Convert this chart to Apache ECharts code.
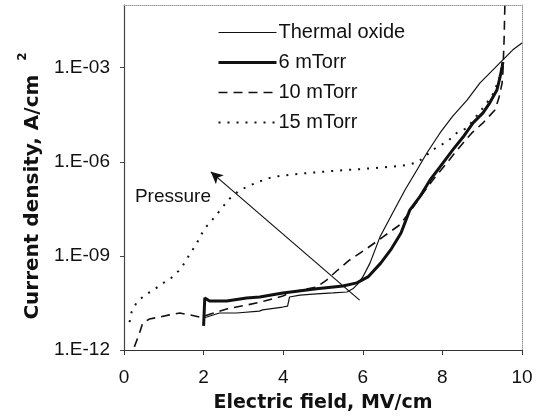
<!DOCTYPE html>
<html>
<head>
<meta charset="utf-8">
<script src="https://cdn.jsdelivr.net/npm/echarts@6/dist/echarts.min.js"></script>
<style>
  html, body { margin: 0; padding: 0; background: #fff; }
  #chart { width: 537px; height: 420px; }
</style>
</head>
<body>
<div id="chart"></div>
<script>
// field in MV/cm, current density stored as log10(A/cm2)
var thermalE   = [2.00, 2.40, 2.83, 3.40, 3.48, 3.99, 4.11, 4.16, 4.42, 4.84, 5.25, 5.60, 5.75, 5.87, 6.00, 6.18, 6.43, 6.75, 7.06, 7.36, 7.61, 7.94, 8.26, 8.62, 8.94, 9.27, 9.52, 9.77, 10.0];
var thermalLog = [-10.98, -10.82, -10.82, -10.76, -10.72, -10.63, -10.60, -10.31, -10.25, -10.21, -10.18, -10.15, -10.05, -9.90, -9.67, -9.23, -8.40, -7.63, -6.90, -6.26, -5.72, -5.08, -4.54, -4.03, -3.49, -3.07, -2.75, -2.43, -2.21];

var m6E   = [2.00, 2.03, 2.15, 2.58, 3.08, 3.41, 3.99, 4.84, 5.50, 5.85, 6.13, 6.45, 6.70, 6.96, 7.18, 7.43, 7.69, 7.94, 8.26, 8.52, 8.77, 9.02, 9.19, 9.37, 9.45, 9.50, 9.52];
var m6Log = [-11.23, -10.34, -10.44, -10.44, -10.34, -10.31, -10.18, -10.05, -9.96, -9.86, -9.67, -9.23, -8.81, -8.27, -7.54, -7.12, -6.58, -6.16, -5.62, -5.21, -4.76, -4.44, -4.12, -3.71, -3.29, -2.98, -2.82];

var m10E   = [0.26, 0.39, 0.47, 0.64, 0.89, 1.14, 1.40, 1.65, 1.90, 2.00, 2.58, 3.11, 3.53, 3.99, 4.24, 4.84, 5.09, 5.37, 5.67, 6.05, 6.50, 6.93, 7.18, 7.48, 7.76, 8.11, 8.31, 8.52, 8.74, 9.02, 9.32, 9.42, 9.50, 9.52, 9.55, 9.57];
var m10Log = [-11.90, -11.46, -11.14, -11.01, -10.95, -10.88, -10.82, -10.88, -10.95, -10.92, -10.69, -10.56, -10.44, -10.28, -10.15, -9.99, -9.77, -9.45, -9.13, -8.81, -8.40, -8.01, -7.60, -7.06, -6.58, -6.04, -5.72, -5.40, -5.08, -4.76, -4.35, -3.96, -3.49, -3.14, -2.11, -1.00];

var m15E   = [0.14, 0.19, 0.31, 0.52, 0.74, 0.94, 1.19, 1.37, 1.52, 1.67, 1.82, 1.95, 2.08, 2.28, 2.48, 2.65, 2.88, 3.13, 3.38, 3.64, 3.91, 4.59, 5.25, 5.97, 6.68, 7.13, 7.38, 7.61, 7.86, 8.11, 8.36, 8.62, 8.94, 9.25, 9.42, 9.50];
var m15Log = [-11.11, -10.79, -10.50, -10.25, -10.09, -9.90, -9.70, -9.48, -9.23, -8.91, -8.62, -8.30, -8.05, -7.76, -7.44, -7.18, -6.93, -6.77, -6.64, -6.52, -6.45, -6.36, -6.29, -6.23, -6.16, -6.10, -6.01, -5.78, -5.53, -5.37, -5.08, -4.92, -4.41, -3.90, -3.39, -2.91];

var seriesNames = ['Thermal oxide', '6 mTorr', '10 mTorr', '15 mTorr'];
var yTickValues = [-12, -9, -6, -3];
var yTickLabels = ['1.E-12', '1.E-09', '1.E-06', '1.E-03'];

// arrow "Pressure": tail -> head, and label position
var arrowTail = [5.92, -10.41];
var arrowHead = [2.18, -6.32];
var pressureAt = [1.23, -7.12];

function pairs(xs, ys) {
    return xs.map(function (x, i) { return [x, ys[i]]; });
}

var chart = echarts.init(document.getElementById('chart'));
var ink = '#111';
var sans = '"Liberation Sans", Arial, sans-serif';
var bold = '"DejaVu Sans", sans-serif';
var tickFont = { fontFamily: sans, fontSize: 19, color: ink };

var styles = [
    { color: ink, width: 1.2, type: 'solid' },
    { color: ink, width: 3, type: 'solid' },
    { color: ink, width: 1.6, type: [9, 6] },
    { color: ink, width: 2, type: [2, 7] }
];

option = {
    animation: false,
    grid: { left: 124, top: 5, width: 398, height: 345 },
    legend: {
        orient: 'vertical',
        left: 212,
        top: 17.5,
        itemWidth: 58,
        itemHeight: 20,
        itemGap: 10,
        data: seriesNames.map(function (n, i) {
            return { name: n, lineStyle: styles[i] };
        }),
        // hide the symbol drawn in the middle of line icons
        itemStyle: { color: 'rgba(0,0,0,0)', borderWidth: 0, opacity: 0 },
        textStyle: { fontFamily: sans, fontSize: 20, color: ink, lineHeight: 20, padding: [0, 0, 0, -3] }
    },
    xAxis: [{
        type: 'value',
        min: 0, max: 10, interval: 2,
        name: 'Electric field, MV/cm',
        nameLocation: 'middle',
        nameGap: 44,
        nameTextStyle: { fontFamily: bold, fontWeight: 'bold', fontSize: 19, color: ink },
        axisLine: { lineStyle: { color: '#333', width: 1.2 } },
        axisTick: { show: true, inside: false, length: 5, lineStyle: { color: '#333' } },
        axisLabel: Object.assign({ margin: 18 }, tickFont),
        splitLine: { show: false }
    }, {
        type: 'value', position: 'top', min: 0, max: 10,
        axisLine: { show: true, onZero: false, lineStyle: { color: '#999', type: 'dotted' } },
        axisTick: { show: false }, axisLabel: { show: false }, splitLine: { show: false }
    }],
    yAxis: [{
        type: 'value',
        min: -12, max: -1, interval: 3,
        name: '{a|Current density, A/cm}{a|  }{s|2}',
        nameLocation: 'middle',
        nameGap: 76,
        nameTextStyle: {
            padding: [0, 17, 0, 0],
            rich: {
                a: { fontFamily: bold, fontWeight: 'bold', fontSize: 20, color: ink, lineHeight: 26, verticalAlign: 'bottom' },
                s: { fontFamily: bold, fontWeight: 'bold', fontSize: 12, color: ink, lineHeight: 26, verticalAlign: 'top' }
            }
        },
        axisLine: { lineStyle: { color: '#444', width: 1.2 } },
        axisTick: { show: true, inside: false, length: 4, customValues: yTickValues, lineStyle: { color: '#444' } },
        axisLabel: Object.assign({
            margin: 14,
            customValues: yTickValues,
            formatter: function (v) {
                var i = yTickValues.indexOf(v);
                return i >= 0 ? yTickLabels[i] : '';
            }
        }, tickFont),
        splitLine: { show: false }
    }, {
        type: 'value', position: 'right', min: -12, max: -1,
        axisLine: { show: true, onZero: false, lineStyle: { color: '#999', type: 'dotted' } },
        axisTick: { show: false }, axisLabel: { show: false }, splitLine: { show: false }
    }],
    series: [{
        name: seriesNames[0],
        type: 'line',
        symbol: 'none',
        data: pairs(thermalE, thermalLog),
        lineStyle: styles[0],
        itemStyle: { color: ink },
        markLine: {
            silent: true,
            symbol: ['none', 'arrow'],
            symbolSize: [9, 12],
            label: { show: false },
            lineStyle: { color: ink, width: 1.2, type: 'solid' },
            data: [[{ coord: arrowTail }, { coord: arrowHead }]]
        },
        markPoint: {
            silent: true,
            symbol: 'rect',
            symbolSize: 0,
            label: { show: true, position: 'inside', formatter: 'Pressure', fontFamily: sans, fontSize: 19, color: ink },
            data: [{ coord: pressureAt }]
        }
    }, {
        name: seriesNames[1],
        type: 'line',
        symbol: 'none',
        data: pairs(m6E, m6Log),
        lineStyle: styles[1],
        itemStyle: { color: ink }
    }, {
        name: seriesNames[2],
        type: 'line',
        symbol: 'none',
        data: pairs(m10E, m10Log),
        lineStyle: styles[2],
        itemStyle: { color: ink }
    }, {
        name: seriesNames[3],
        type: 'line',
        symbol: 'none',
        data: pairs(m15E, m15Log),
        lineStyle: styles[3],
        itemStyle: { color: ink }
    }]
};

chart.setOption(option);
</script>
</body>
</html>
